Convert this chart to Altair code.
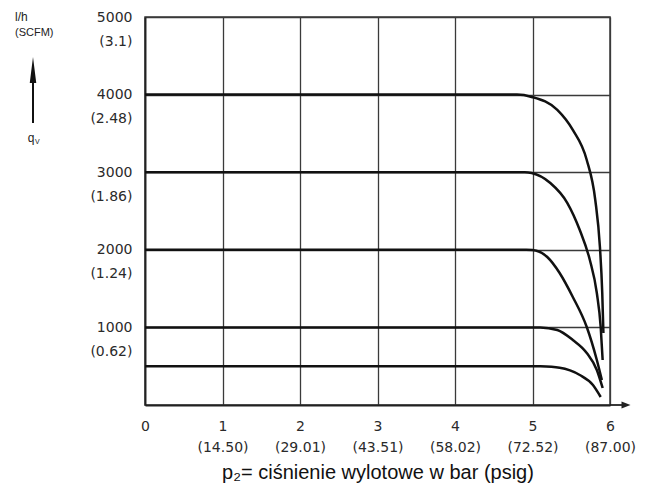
import altair as alt
import pandas as pd

# ---- data ----
x_ticks = [0, 1, 2, 3, 4, 5, 6]
x_psig = ["", "(14.50)", "(29.01)", "(43.51)", "(58.02)", "(72.52)", "(87.00)"]
y_ticks = [1000, 2000, 3000, 4000, 5000]
y_scfm = ["(0.62)", "(1.24)", "(1.86)", "(2.48)", "(3.1)"]

c4000_x = [0, 4.80, 4.99, 5.32, 5.52, 5.70, 5.81, 5.87, 5.90, 5.915]
c4000_y = [4000, 4000, 3970, 3802, 3544, 3157, 2642, 2036, 1443, 928]
c3000_x = [0, 4.90, 4.99, 5.23, 5.45, 5.61, 5.74, 5.83, 5.88, 5.905]
c3000_y = [3000, 3000, 2990, 2861, 2603, 2255, 1869, 1443, 1005, 580]
c2000_x = [0, 4.92, 5.00, 5.19, 5.35, 5.52, 5.70, 5.83, 5.895]
c2000_y = [2000, 2000, 1997, 1907, 1701, 1392, 1005, 580, 322]
c1000_x = [0, 5.00, 5.10, 5.32, 5.52, 5.70, 5.83, 5.905]
c1000_y = [1000, 1000, 1000, 967, 838, 670, 451, 219]
c500_x = [0, 5.00, 5.10, 5.35, 5.61, 5.78, 5.88]
c500_y = [500, 500, 498, 480, 387, 258, 103]

series = [("4000", c4000_x, c4000_y), ("3000", c3000_x, c3000_y),
          ("2000", c2000_x, c2000_y), ("1000", c1000_x, c1000_y),
          ("500", c500_x, c500_y)]

rows = []
for name, xs, ys in series:
    for i, (xv, yv) in enumerate(zip(xs, ys)):
        rows.append({"p": xv, "q": yv, "s": name, "o": i})
df = pd.DataFrame(rows)

W, H = 465, 388
FONT = "Liberation Sans"
LFONT = "DejaVu Sans"

x_arr = "[" + ",".join("'%s'" % s for s in x_psig) + "]"
y_arr = "[" + ",".join("'%s'" % s for s in y_scfm) + "]"

x_axis = alt.Axis(
    values=x_ticks, grid=True, gridColor="#3a3a3a", gridWidth=1.3,
    ticks=False, domainColor="#222", domainWidth=1.8,
    labelExpr="datum.value == 0 ? '0' : [toString(datum.value), " + x_arr + "[datum.value]]",
    labelFont=LFONT, labelFontSize=14, labelColor="#2a2a2a", labelLineHeight=21,
    labelPadding=14, labelFlush=False, labelOverlap=False,
    title="p\u2082= ciśnienie wylotowe w bar (psig)", titleFont=FONT,
    titleFontSize=20, titleFontWeight="normal", titleColor="#111",
    titleBaseline="middle", titleY=67,
)
y_axis = alt.Axis(
    values=y_ticks, grid=True, gridColor="#3a3a3a", gridWidth=1.3,
    ticks=False, domainColor="#222", domainWidth=1.8,
    labelExpr="[toString(datum.value), " + y_arr + "[datum.value/1000 - 1]]",
    labelFont=LFONT, labelFontSize=14, labelColor="#2a2a2a", labelLineHeight=24,
    labelBaseline="top", labelOffset=-7, labelPadding=13,
    labelFlush=False, labelOverlap=False, title=None,
)

lines = alt.Chart(df).mark_line(
    color="#111", strokeWidth=2.5, interpolate="monotone", clip=False
).encode(
    x=alt.X("p:Q", scale=alt.Scale(domain=[0, 6], nice=False), axis=x_axis),
    y=alt.Y("q:Q", scale=alt.Scale(domain=[0, 5000], nice=False), axis=y_axis),
    detail="s:N",
    order="o:Q",
)

one = pd.DataFrame({"a": [0]})
base = alt.Chart(one)

# x-axis arrow extension
x_rule = base.mark_rule(color="#222", strokeWidth=1.8).encode(
    x=alt.value(W), x2=alt.value(W + 16), y=alt.value(H))
x_head = base.mark_point(
    shape="M1,0L-1,-0.8L-1,0.8Z", filled=True, color="#222", size=81, opacity=1
).encode(x=alt.value(W + 16), y=alt.value(H))

# y annotation at top-left
t_lh = base.mark_text(text="l/h", font=FONT, fontSize=12, align="left",
                      baseline="middle", color="#222").encode(
    x=alt.value(-130), y=alt.value(0))
t_scfm = base.mark_text(text="(SCFM)", font=FONT, fontSize=11, align="left",
                        baseline="middle", color="#222").encode(
    x=alt.value(-130), y=alt.value(16))
y_rule = base.mark_rule(color="#111", strokeWidth=2).encode(
    x=alt.value(-112), y=alt.value(62), y2=alt.value(106))
y_head = base.mark_point(
    shape="M0,-1L0.25,1L-0.25,1Z", filled=True, color="#111", size=676, opacity=1
).encode(x=alt.value(-112), y=alt.value(53))
t_q = base.mark_text(text="q", font=FONT, fontSize=12, align="center",
                     baseline="middle", color="#222").encode(
    x=alt.value(-114), y=alt.value(121))
t_v = base.mark_text(text="V", font=FONT, fontSize=7, align="left",
                     baseline="middle", color="#222").encode(
    x=alt.value(-110), y=alt.value(125))

chart = alt.layer(
    lines, x_rule, x_head, t_lh, t_scfm, y_rule, y_head, t_q, t_v
).properties(
    width=W, height=H,
    autosize=alt.AutoSizeParams(type="none"),
    padding={"left": 137, "top": 9, "right": 30, "bottom": 80},
    background="white",
).configure_view(stroke="#3a3a3a", strokeWidth=1.5)

chart.save("out.html", embed_options={"renderer": "svg", "actions": False})
